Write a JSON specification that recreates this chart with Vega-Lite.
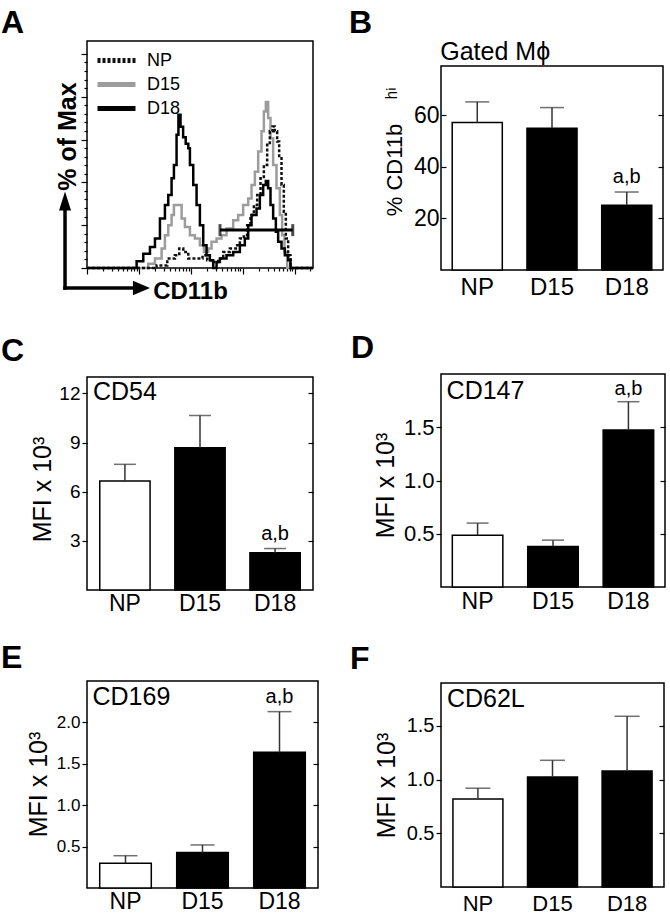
{
 "$schema": "https://vega.github.io/schema/vega-lite/v6.json",
 "background": "white",
 "padding": {"left": 0, "top": 6, "right": 0, "bottom": 0},
 "config": {
  "font": "Liberation Sans",
  "view": {"stroke": "#000", "strokeWidth": 1.5},
  "axis": {"grid": false, "domain": false, "labelColor": "#000", "titleColor": "#000", "tickColor": "#000", "tickWidth": 1.2, "titleFontWeight": "normal", "labelFont": "Liberation Sans", "titleFont": "Liberation Sans"},
  "title": {"anchor": "start", "frame": "group", "fontSize": 32, "fontWeight": "bold", "baseline": "alphabetic", "color": "#000", "font": "Liberation Sans"}
 },
 "datasets": {
  "hist": [
   {"s":"D15","L":0,"v":0},{"s":"D15","L":1.179,"v":2},{"s":"D15","L":1.308,"v":4.4},{"s":"D15","L":1.436,"v":9.1},{"s":"D15","L":1.5,"v":15.3},{"s":"D15","L":1.564,"v":20},{"s":"D15","L":1.628,"v":24.7},{"s":"D15","L":1.673,"v":29.4},{"s":"D15","L":1.821,"v":23.1},{"s":"D15","L":1.885,"v":19.2},{"s":"D15","L":1.981,"v":15.3},{"s":"D15","L":2.077,"v":13.8},{"s":"D15","L":2.173,"v":10.6},{"s":"D15","L":2.25,"v":7.5},{"s":"D15","L":2.333,"v":9.1},{"s":"D15","L":2.397,"v":12.2},{"s":"D15","L":2.494,"v":13.8},{"s":"D15","L":2.59,"v":15.3},{"s":"D15","L":2.686,"v":18.4},{"s":"D15","L":2.814,"v":22.3},{"s":"D15","L":2.91,"v":24.7},{"s":"D15","L":3.006,"v":29.4},{"s":"D15","L":3.103,"v":32.5},{"s":"D15","L":3.167,"v":38.8},{"s":"D15","L":3.231,"v":45},{"s":"D15","L":3.295,"v":54.4},{"s":"D15","L":3.359,"v":63.8},{"s":"D15","L":3.404,"v":73.1},{"s":"D15","L":3.442,"v":77.5},{"s":"D15","L":3.487,"v":70},{"s":"D15","L":3.532,"v":60.6},{"s":"D15","L":3.583,"v":48.1},{"s":"D15","L":3.647,"v":37.2},{"s":"D15","L":3.712,"v":24.7},{"s":"D15","L":3.756,"v":15.3},{"s":"D15","L":3.801,"v":7.5},{"s":"D15","L":3.853,"v":0},{"s":"D15","L":4.35,"v":0},
   {"s":"NP","L":0,"v":0},{"s":"NP","L":1.34,"v":1.2},{"s":"NP","L":1.545,"v":4.4},{"s":"NP","L":1.692,"v":5.9},{"s":"NP","L":1.776,"v":9.1},{"s":"NP","L":1.853,"v":7.5},{"s":"NP","L":1.949,"v":4.4},{"s":"NP","L":2.109,"v":4.4},{"s":"NP","L":2.224,"v":5.9},{"s":"NP","L":2.314,"v":3.6},{"s":"NP","L":2.429,"v":2.8},{"s":"NP","L":2.526,"v":4.4},{"s":"NP","L":2.622,"v":7.5},{"s":"NP","L":2.75,"v":9.1},{"s":"NP","L":2.865,"v":10.6},{"s":"NP","L":2.942,"v":13.8},{"s":"NP","L":3.019,"v":15.3},{"s":"NP","L":3.083,"v":20},{"s":"NP","L":3.147,"v":24.7},{"s":"NP","L":3.212,"v":29.4},{"s":"NP","L":3.276,"v":34.1},{"s":"NP","L":3.34,"v":41.9},{"s":"NP","L":3.404,"v":48.1},{"s":"NP","L":3.468,"v":57.5},{"s":"NP","L":3.519,"v":63.8},{"s":"NP","L":3.571,"v":66.1},{"s":"NP","L":3.615,"v":63.8},{"s":"NP","L":3.66,"v":59.1},{"s":"NP","L":3.699,"v":51.3},{"s":"NP","L":3.744,"v":38.8},{"s":"NP","L":3.788,"v":26.3},{"s":"NP","L":3.827,"v":13.8},{"s":"NP","L":3.872,"v":5.9},{"s":"NP","L":3.917,"v":0},{"s":"NP","L":4.35,"v":0},
   {"s":"D18","L":0,"v":0},{"s":"D18","L":0.955,"v":3.1},{"s":"D18","L":1.083,"v":6.7},{"s":"D18","L":1.212,"v":9.8},{"s":"D18","L":1.308,"v":13.8},{"s":"D18","L":1.404,"v":23.1},{"s":"D18","L":1.5,"v":29.4},{"s":"D18","L":1.564,"v":34.1},{"s":"D18","L":1.628,"v":41.9},{"s":"D18","L":1.673,"v":48.1},{"s":"D18","L":1.724,"v":62.2},{"s":"D18","L":1.76,"v":71.6},{"s":"D18","L":1.8,"v":66},{"s":"D18","L":1.85,"v":61},{"s":"D18","L":1.9,"v":58},{"s":"D18","L":1.95,"v":55.9},{"s":"D18","L":1.981,"v":48.1},{"s":"D18","L":2.045,"v":38.8},{"s":"D18","L":2.109,"v":29.4},{"s":"D18","L":2.173,"v":20},{"s":"D18","L":2.237,"v":10.6},{"s":"D18","L":2.301,"v":5.9},{"s":"D18","L":2.365,"v":3.6},{"s":"D18","L":2.429,"v":0},{"s":"D18","L":2.494,"v":2.8},{"s":"D18","L":2.558,"v":4.4},{"s":"D18","L":2.686,"v":5.9},{"s":"D18","L":2.814,"v":7.5},{"s":"D18","L":2.942,"v":10.6},{"s":"D18","L":3.038,"v":13.8},{"s":"D18","L":3.103,"v":20},{"s":"D18","L":3.167,"v":24.7},{"s":"D18","L":3.263,"v":27.8},{"s":"D18","L":3.327,"v":34.1},{"s":"D18","L":3.391,"v":38.8},{"s":"D18","L":3.442,"v":40.6},{"s":"D18","L":3.487,"v":37.2},{"s":"D18","L":3.532,"v":29.4},{"s":"D18","L":3.583,"v":23.1},{"s":"D18","L":3.635,"v":16.9},{"s":"D18","L":3.679,"v":12.2},{"s":"D18","L":3.744,"v":9.1},{"s":"D18","L":3.808,"v":5.9},{"s":"D18","L":3.872,"v":3.6},{"s":"D18","L":3.917,"v":0},{"s":"D18","L":4.35,"v":0}
  ],
  "gate": [{"L": 2.56, "v": 17.7}, {"L": 3.96, "v": 17.7}],
  "B": [{"group":"NP","mean":57.1,"upper":65.1,"sig":""},{"group":"D15","mean":54.9,"upper":62.9,"sig":""},{"group":"D18","mean":25.1,"upper":30.2,"sig":"a,b"}],
  "C": [{"group":"NP","mean":6.66,"upper":7.67,"sig":""},{"group":"D15","mean":8.68,"upper":10.65,"sig":""},{"group":"D18","mean":2.28,"upper":2.53,"sig":"a,b"}],
  "D": [{"group":"NP","mean":0.485,"upper":0.6,"sig":""},{"group":"D15","mean":0.38,"upper":0.44,"sig":""},{"group":"D18","mean":1.475,"upper":1.74,"sig":"a,b"}],
  "E": [{"group":"NP","mean":0.3,"upper":0.39,"sig":""},{"group":"D15","mean":0.43,"upper":0.52,"sig":""},{"group":"D18","mean":1.64,"upper":2.13,"sig":"a,b"}],
  "F": [{"group":"NP","mean":0.82,"upper":0.92,"sig":""},{"group":"D15","mean":1.025,"upper":1.18,"sig":""},{"group":"D18","mean":1.08,"upper":1.59,"sig":""}]
 },
 "spacing": 29,
 "resolve": {"legend": {"color": "independent", "strokeDash": "independent"}},
 "hconcat": [
  {"spacing": 30,
   "resolve": {"legend": {"color": "independent", "strokeDash": "independent"}},
   "vconcat": [
   {"width": 226, "height": 227,
    "title": {"text": "A", "dx": -86, "offset": 1},
    "resolve": {"axis": {"x": "independent", "y": "independent"}},
    "layer": [
     {"data": {"name": "hist"},
      "mark": {"type": "line", "interpolate": "step-after"},
      "encoding": {
       "x": {"field": "L", "type": "quantitative", "scale": {"domain": [0, 4.35], "nice": false, "zero": false},
             "axis": {"values": [0,0.301,0.477,0.602,0.699,0.778,0.845,0.903,0.954,1,1.301,1.477,1.602,1.699,1.778,1.845,1.903,1.954,2,2.301,2.477,2.602,2.699,2.778,2.845,2.903,2.954,3,3.301,3.477,3.602,3.699,3.778,3.845,3.903,3.954,4,4.301],
                      "labels": false, "tickSize": {"condition": {"test": "abs(datum.value - round(datum.value)) < 0.001", "value": 6}, "value": 3},
                      "title": "CD11b", "titleFontSize": 24, "titleFontWeight": "bold", "titleX": 103, "titleY": 30, "titleBaseline": "alphabetic", "titleAlign": "center"}},
       "y": {"field": "v", "type": "quantitative", "scale": {"domain": [0, 106], "nice": false},
             "axis": {"values": [0,4,8,12,16,20,24,28,32,36,40,44,48,52,56,60,64,68,72,76,80,84,88,92,96,100],
                      "labels": false, "tickSize": {"condition": {"test": "datum.value % 20 === 0", "value": 6}, "value": 3},
                      "title": "% of Max", "titleFontSize": 25, "titleFontWeight": "bold", "titleAngle": 270, "titleX": -12, "titleY": 95, "titleBaseline": "alphabetic", "titleAlign": "center"}},
       "strokeWidth": {"value": 2.5},
       "color": {"field": "s", "type": "nominal", "scale": {"domain": ["NP","D15","D18"], "range": ["#111111","#9c9c9c","#000000"]},
                 "legend": {"title": null, "orient": "none", "legendX": 17.5, "legendY": 7.5, "padding": 0, "symbolType": "M-2,0H2", "symbolSize": 361, "symbolStrokeWidth": 5, "labelFontSize": 18, "labelOffset": 18.5, "rowPadding": 2, "labelColor": "#000"}},
       "strokeDash": {"field": "s", "type": "nominal", "scale": {"domain": ["NP","D15","D18"], "range": [[3,2],[1,0],[1,0]]},
                 "legend": {"title": null, "orient": "none", "legendX": 17.5, "legendY": 7.5, "padding": 0, "symbolType": "M-2,0H2", "symbolSize": 361, "symbolStrokeWidth": 5, "labelFontSize": 18, "labelOffset": 18.5, "rowPadding": 2, "labelColor": "#000"}}
      }},
     {"data": {"name": "gate"}, "mark": {"type": "line", "color": "#000", "strokeWidth": 3},
      "encoding": {"x": {"field": "L", "type": "quantitative", "axis": null}, "y": {"field": "v", "type": "quantitative", "axis": null}}},
     {"data": {"name": "gate"}, "mark": {"type": "tick", "orient": "vertical", "size": 12, "thickness": 3, "color": "#000"},
      "encoding": {"x": {"field": "L", "type": "quantitative", "axis": null}, "y": {"field": "v", "type": "quantitative", "axis": null}}},
     {"data": {"values": [{}]}, "mark": {"type": "rule", "color": "#000", "strokeWidth": 3.5, "strokeCap": "square"},
      "encoding": {"x": {"datum": -0.423, "type": "quantitative", "axis": null}, "y": {"datum": -9.35, "type": "quantitative", "axis": null}, "y2": {"datum": 30.5}}},
     {"data": {"values": [{}]}, "mark": {"type": "rule", "color": "#000", "strokeWidth": 3.5, "strokeCap": "square"},
      "encoding": {"x": {"datum": -0.423, "type": "quantitative", "axis": null}, "x2": {"datum": 1.0}, "y": {"datum": -9.35, "type": "quantitative", "axis": null}}},
     {"data": {"values": [{}]}, "mark": {"type": "point", "filled": true, "color": "#000", "opacity": 1, "shape": "M0,-1L0.63,1L-0.63,1Z", "size": 361},
      "encoding": {"x": {"datum": -0.423, "type": "quantitative", "axis": null}, "y": {"datum": 31.3, "type": "quantitative", "axis": null}}},
     {"data": {"values": [{}]}, "mark": {"type": "point", "filled": true, "color": "#000", "opacity": 1, "shape": "M1,0L-1,-0.85L-1,0.85Z", "size": 289},
      "encoding": {"x": {"datum": 1.048, "type": "quantitative", "axis": null}, "y": {"datum": -9.35, "type": "quantitative", "axis": null}}}
    ]},
   {"spacing": 25, "vconcat": [
    {"width": 226, "height": 213,
     "title": {"text": "C", "dx": -86, "offset": 9},
     "data": {"name": "C"},
     "resolve": {"axis": {"x": "independent", "y": "independent"}},
     "layer": [
      {"mark": {"type": "bar", "stroke": "#000", "strokeWidth": 1.5},
       "encoding": {
        "x": {"field": "group", "type": "nominal", "sort": null, "scale": {"domain": ["NP","D15","D18"], "paddingInner": 0.33, "paddingOuter": 0.17},
              "axis": {"title": null, "ticks": false, "labelFontSize": 23, "labelPadding": 2, "labelAngle": 0}},
        "y": {"field": "mean", "type": "quantitative", "scale": {"domain": [0, 13], "nice": false},
              "axis": {"values": [3,6,9,12], "tickSize": 5, "labelFontSize": 19, "labelPadding": 2, "title": "MFI x 10³", "titleFontSize": 25, "titleAngle": 270, "titleX": -37, "titleY": 112, "titleBaseline": "alphabetic", "titleAlign": "center"}},
        "fill": {"condition": {"test": "datum.group === 'NP'", "value": "#ffffff"}, "value": "#000000"}
       }},
      {"mark": {"type": "rule", "color": "#333", "strokeWidth": 1.5},
       "encoding": {"x": {"field": "group", "type": "nominal", "axis": null}, "y": {"field": "mean", "type": "quantitative", "axis": {"orient": "right", "values": [3,6,9,12], "tickSize": -5, "labels": false, "title": null}}, "y2": {"field": "upper"}}},
      {"mark": {"type": "tick", "color": "#333", "size": 22, "thickness": 1.5},
       "encoding": {"x": {"field": "group", "type": "nominal", "axis": null}, "y": {"field": "upper", "type": "quantitative", "axis": null}}},
      {"mark": {"type": "text", "fontSize": 20, "baseline": "alphabetic", "dy": -9, "color": "#000"},
       "encoding": {"x": {"field": "group", "type": "nominal", "axis": null}, "y": {"field": "upper", "type": "quantitative", "axis": null}, "text": {"field": "sig"}}},
      {"data": {"values": [{"name": "CD54"}]}, "mark": {"type": "text", "fontSize": 25, "align": "left", "baseline": "alphabetic", "dx": -32, "dy": 23, "color": "#000"},
       "encoding": {"x": {"datum": "NP", "type": "nominal", "axis": null}, "y": {"datum": 13, "type": "quantitative", "axis": null}, "text": {"field": "name"}}}
     ]},
    {"width": 231, "height": 207,
     "title": {"text": "E", "dx": -86, "offset": 6},
     "data": {"name": "E"},
     "resolve": {"axis": {"x": "independent", "y": "independent"}},
     "layer": [
      {"mark": {"type": "bar", "stroke": "#000", "strokeWidth": 1.5},
       "encoding": {
        "x": {"field": "group", "type": "nominal", "sort": null, "scale": {"domain": ["NP","D15","D18"], "paddingInner": 0.33, "paddingOuter": 0.165},
              "axis": {"title": null, "ticks": false, "labelFontSize": 23, "labelPadding": 2, "labelAngle": 0}},
        "y": {"field": "mean", "type": "quantitative", "scale": {"domain": [0, 2.5], "nice": false},
              "axis": {"values": [0.5,1,1.5,2], "format": ".1f", "tickSize": 5, "labelFontSize": 17, "labelPadding": 2, "title": "MFI x 10³", "titleFontSize": 25, "titleAngle": 270, "titleX": -41, "titleY": 103, "titleBaseline": "alphabetic", "titleAlign": "center"}},
        "fill": {"condition": {"test": "datum.group === 'NP'", "value": "#ffffff"}, "value": "#000000"}
       }},
      {"mark": {"type": "rule", "color": "#333", "strokeWidth": 1.5},
       "encoding": {"x": {"field": "group", "type": "nominal", "axis": null}, "y": {"field": "mean", "type": "quantitative", "axis": {"orient": "right", "values": [0.5,1,1.5,2], "tickSize": -5, "labels": false, "title": null}}, "y2": {"field": "upper"}}},
      {"mark": {"type": "tick", "color": "#333", "size": 24, "thickness": 1.5},
       "encoding": {"x": {"field": "group", "type": "nominal", "axis": null}, "y": {"field": "upper", "type": "quantitative", "axis": null}}},
      {"mark": {"type": "text", "fontSize": 20, "baseline": "alphabetic", "dy": -9, "color": "#000"},
       "encoding": {"x": {"field": "group", "type": "nominal", "axis": null}, "y": {"field": "upper", "type": "quantitative", "axis": null}, "text": {"field": "sig"}}},
      {"data": {"values": [{"name": "CD169"}]}, "mark": {"type": "text", "fontSize": 25, "align": "left", "baseline": "alphabetic", "dx": -33, "dy": 24, "color": "#000"},
       "encoding": {"x": {"datum": "NP", "type": "nominal", "axis": null}, "y": {"datum": 2.5, "type": "quantitative", "axis": null}, "text": {"field": "name"}}}
     ]}
   ]}
  ]},
  {"spacing": 32, "vconcat": [
   {"width": 222, "height": 229,
    "view": {"stroke": null},
    "title": {"text": "B", "dx": -92, "offset": 0},
    "data": {"name": "B"},
    "resolve": {"axis": {"x": "independent", "y": "independent"}},
    "layer": [
     {"data": {"values": [{}]}, "mark": {"type": "rect", "fill": "transparent", "stroke": "#000", "strokeWidth": 1.5},
      "encoding": {"y": {"datum": 0, "type": "quantitative", "scale": {"domain": [0, 88.68], "nice": false}, "axis": null}, "y2": {"datum": 79}}},
     {"mark": {"type": "bar", "stroke": "#000", "strokeWidth": 1.5},
      "encoding": {
       "x": {"field": "group", "type": "nominal", "sort": null, "scale": {"domain": ["NP","D15","D18"], "paddingInner": 0.33, "paddingOuter": 0.15},
             "axis": {"title": null, "ticks": false, "labelFontSize": 24, "labelPadding": 5, "labelAngle": 0}},
       "y": {"field": "mean", "type": "quantitative", "scale": {"domain": [0, 88.68], "nice": false},
             "axis": {"values": [20,40,60], "tickSize": -5, "labelFontSize": 23, "labelPadding": 7, "title": "% CD11b\u00a0\u00a0\u00a0\u00a0ʰⁱ", "titleFontSize": 22, "titleAngle": 270, "titleX": -40, "titleY": 110, "titleBaseline": "alphabetic", "titleAlign": "center"}},
       "fill": {"condition": {"test": "datum.group === 'NP'", "value": "#ffffff"}, "value": "#000000"}
      }},
     {"mark": {"type": "rule", "color": "#333", "strokeWidth": 1.5},
      "encoding": {"x": {"field": "group", "type": "nominal", "axis": null}, "y": {"field": "mean", "type": "quantitative", "axis": {"orient": "right", "values": [20,40,60], "tickSize": -5, "labels": false, "title": null}}, "y2": {"field": "upper"}}},
     {"mark": {"type": "tick", "color": "#333", "size": 24, "thickness": 1.5},
      "encoding": {"x": {"field": "group", "type": "nominal", "axis": null}, "y": {"field": "upper", "type": "quantitative", "axis": null}}},
     {"mark": {"type": "text", "fontSize": 20, "baseline": "alphabetic", "dy": -9, "color": "#000"},
      "encoding": {"x": {"field": "group", "type": "nominal", "axis": null}, "y": {"field": "upper", "type": "quantitative", "axis": null}, "text": {"field": "sig"}}},
     {"data": {"values": [{"name": "Gated Mϕ"}]}, "mark": {"type": "text", "fontSize": 25, "align": "left", "baseline": "alphabetic", "dx": -37, "dy": -6, "color": "#000"},
      "encoding": {"x": {"datum": "NP", "type": "nominal", "axis": null}, "y": {"datum": 79, "type": "quantitative", "axis": null}, "text": {"field": "name"}}}
    ]},
   {"spacing": 28, "vconcat": [
    {"width": 224, "height": 213,
     "title": {"text": "D", "dx": -90, "offset": 9},
     "data": {"name": "D"},
     "resolve": {"axis": {"x": "independent", "y": "independent"}},
     "layer": [
      {"mark": {"type": "bar", "stroke": "#000", "strokeWidth": 1.5},
       "encoding": {
        "x": {"field": "group", "type": "nominal", "sort": null, "scale": {"domain": ["NP","D15","D18"], "paddingInner": 0.33, "paddingOuter": 0.15},
              "axis": {"title": null, "ticks": false, "labelFontSize": 23, "labelPadding": 3, "labelAngle": 0}},
        "y": {"field": "mean", "type": "quantitative", "scale": {"domain": [0, 2], "nice": false},
              "axis": {"values": [0.5,1,1.5], "format": ".1f", "tickSize": 5, "labelFontSize": 22, "labelPadding": 2, "title": "MFI x 10³", "titleFontSize": 25, "titleAngle": 270, "titleX": -48, "titleY": 111, "titleBaseline": "alphabetic", "titleAlign": "center"}},
        "fill": {"condition": {"test": "datum.group === 'NP'", "value": "#ffffff"}, "value": "#000000"}
       }},
      {"mark": {"type": "rule", "color": "#333", "strokeWidth": 1.5},
       "encoding": {"x": {"field": "group", "type": "nominal", "axis": null}, "y": {"field": "mean", "type": "quantitative", "axis": {"orient": "right", "values": [0.5,1,1.5], "tickSize": -5, "labels": false, "title": null}}, "y2": {"field": "upper"}}},
      {"mark": {"type": "tick", "color": "#333", "size": 22, "thickness": 1.5},
       "encoding": {"x": {"field": "group", "type": "nominal", "axis": null}, "y": {"field": "upper", "type": "quantitative", "axis": null}}},
      {"mark": {"type": "text", "fontSize": 20, "baseline": "alphabetic", "dy": -7, "color": "#000"},
       "encoding": {"x": {"field": "group", "type": "nominal", "axis": null}, "y": {"field": "upper", "type": "quantitative", "axis": null}, "text": {"field": "sig"}}},
      {"data": {"values": [{"name": "CD147"}]}, "mark": {"type": "text", "fontSize": 25, "align": "left", "baseline": "alphabetic", "dx": -31, "dy": 25, "color": "#000"},
       "encoding": {"x": {"datum": "NP", "type": "nominal", "axis": null}, "y": {"datum": 2, "type": "quantitative", "axis": null}, "text": {"field": "name"}}}
     ]},
    {"width": 223, "height": 204,
     "title": {"text": "F", "dx": -91, "offset": 7},
     "data": {"name": "F"},
     "resolve": {"axis": {"x": "independent", "y": "independent"}},
     "layer": [
      {"mark": {"type": "bar", "stroke": "#000", "strokeWidth": 1.5},
       "encoding": {
        "x": {"field": "group", "type": "nominal", "sort": null, "scale": {"domain": ["NP","D15","D18"], "paddingInner": 0.33, "paddingOuter": 0.16},
              "axis": {"title": null, "ticks": false, "labelFontSize": 22, "labelPadding": 6, "labelAngle": 0}},
        "y": {"field": "mean", "type": "quantitative", "scale": {"domain": [0, 1.9], "nice": false},
              "axis": {"values": [0.5,1,1.5], "format": ".1f", "tickSize": 5, "labelFontSize": 20, "labelPadding": 2, "title": "MFI x 10³", "titleFontSize": 25, "titleAngle": 270, "titleX": -47, "titleY": 102, "titleBaseline": "alphabetic", "titleAlign": "center"}},
        "fill": {"condition": {"test": "datum.group === 'NP'", "value": "#ffffff"}, "value": "#000000"}
       }},
      {"mark": {"type": "rule", "color": "#333", "strokeWidth": 1.5},
       "encoding": {"x": {"field": "group", "type": "nominal", "axis": null}, "y": {"field": "mean", "type": "quantitative", "axis": {"orient": "right", "values": [0.5,1,1.5], "tickSize": -5, "labels": false, "title": null}}, "y2": {"field": "upper"}}},
      {"mark": {"type": "tick", "color": "#333", "size": 25, "thickness": 1.5},
       "encoding": {"x": {"field": "group", "type": "nominal", "axis": null}, "y": {"field": "upper", "type": "quantitative", "axis": null}}},
      {"data": {"values": [{"name": "CD62L"}]}, "mark": {"type": "text", "fontSize": 25, "align": "left", "baseline": "alphabetic", "dx": -31, "dy": 24, "color": "#000"},
       "encoding": {"x": {"datum": "NP", "type": "nominal", "axis": null}, "y": {"datum": 1.9, "type": "quantitative", "axis": null}, "text": {"field": "name"}}}
     ]}
   ]}
  ]}
 ]
}
